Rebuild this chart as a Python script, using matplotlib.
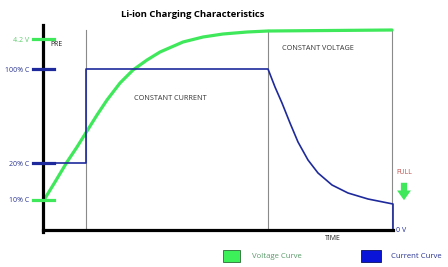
import matplotlib.pyplot as plt

# schematic units: x = time from the axis origin, y = level above the time axis
volt_t = [1, 12, 24, 34, 44, 54, 64, 77, 90, 104, 117, 140, 160, 180, 204, 225, 349]
volt_v = [30, 48, 68, 83, 99, 115, 130, 147, 160, 170, 178, 188, 193, 196, 198, 199, 200]

curr_t = [0, 43, 43, 225, 232, 239, 247, 255, 265, 275, 289, 305, 325, 350, 350]
curr_v = [67, 67, 161, 161, 143, 127, 107, 88, 70, 57, 45, 37, 31, 26, 0]

level_names = ['4.2 V', '100% C', '20% C', '10% C']
level_vals = [191, 161, 67, 30]
level_cols = ['#5ccc6c', '#2a3590', '#2a3590', '#2a3590']
tick_cols = ['#3ee85a', '#1e2a9c', '#1e2a9c', '#3ee85a']

phase_t = [43, 225, 349]

GREEN = '#3ee85a'
BLUE = '#1e2a9c'

plt.rcParams['font.family'] = ['Open Sans', 'DejaVu Sans']

fig = plt.figure(figsize=(4.48, 2.67), dpi=100)
ax = fig.add_axes([0, 0, 1, 1])
ax.set_xlim(-43, 405)
ax.set_ylim(-37, 230)
ax.axis('off')

for t in phase_t:
    ax.plot([t, t], [0, 200], color='#8a8a8a', lw=0.8, zorder=1)

ax.plot(volt_t, volt_v, color=GREEN, lw=2.3, solid_capstyle='round',
        solid_joinstyle='round', zorder=3)
ax.plot(curr_t, curr_v, color=BLUE, lw=1.2, solid_joinstyle='round', zorder=4)

# axes
ax.plot([0, 0], [-2, 205], color='black', lw=2.3, zorder=5)
ax.plot([0, 350], [0, 0], color='black', lw=2.3, zorder=5)

for name, v, c, tc in zip(level_names, level_vals, level_cols, tick_cols):
    ax.plot([-10, 11], [v, v], color=tc, lw=2.3, zorder=6)
    ax.text(-14, v - 1, name, color=c, fontsize=5, ha='right', va='center')

ax.text(353, 0, '0 V', color=BLUE, fontsize=5, ha='left', va='center')
ax.text(7, 186, 'PRE', fontsize=5, ha='left', va='center', color='#222222')
ax.text(127, 132, 'CONSTANT CURRENT', fontsize=5.2, ha='center', va='center',
        color='#333333')
ax.text(275, 182, 'CONSTANT VOLTAGE', fontsize=5.2, ha='center', va='center',
        color='#333333')
ax.text(290, -8, 'TIME', fontsize=5, ha='center', va='center', color='#222222')
ax.text(361, 58, 'FULL', fontsize=5, ha='center', va='center', color='#c0504d')
ax.annotate('', xy=(361, 27), xytext=(361, 50),
            arrowprops=dict(arrowstyle='simple,head_width=1.0,head_length=0.7,tail_width=0.45',
                            color=GREEN, lw=0, mutation_scale=10))

fig.text(0.429, 0.947, 'Li-ion Charging Characteristics', fontsize=6.8,
         fontweight='bold', ha='center', va='center')

# legend boxes
ax.add_patch(plt.Rectangle((180, -32), 17, 12, facecolor='#3cf05a',
                           edgecolor='#2a6a35', lw=0.6, zorder=6))
ax.text(209, -26, 'Voltage Curve', fontsize=5.6, color='#5a9a6a', va='center')
ax.add_patch(plt.Rectangle((318, -32), 20, 12, facecolor='#0a14d8',
                           edgecolor='#0a1060', lw=0.6, zorder=6))
ax.text(348, -26, 'Current Curve', fontsize=5.6, color='#2a3590', va='center')

fig.savefig('out.png', dpi=100)
